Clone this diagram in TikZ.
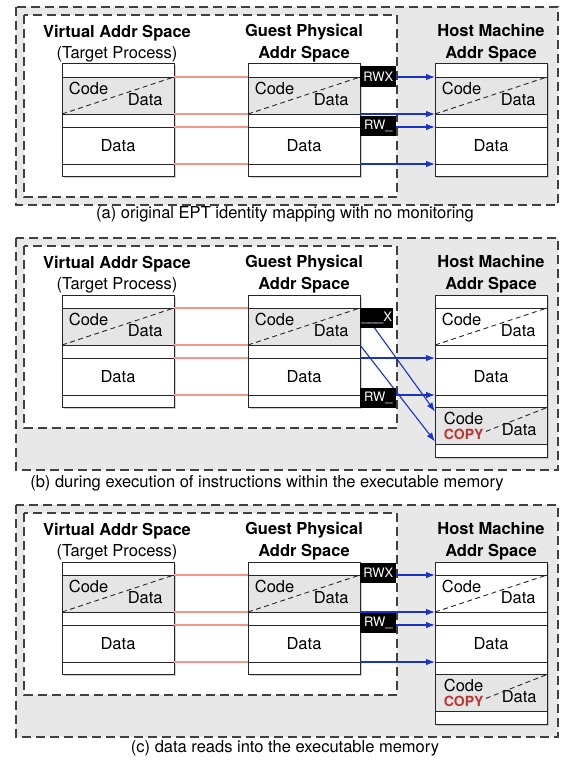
\documentclass[tikz,border=0pt]{standalone}
\usepackage{fontspec}
\setmainfont{TeX Gyre Heros}
\usetikzlibrary{shadows,arrows.meta}

\definecolor{codegray}{gray}{0.9}
\definecolor{panelgray}{gray}{0.91}
\definecolor{maplink}{RGB}{245,150,140}
\definecolor{eptblue}{RGB}{25,50,200}
\definecolor{copyred}{RGB}{190,50,45}

\begin{document}
\begin{tikzpicture}[x=1pt,y=-1pt,>={Latex[length=9pt,width=6.5pt]},thick,
	font=\fontsize{16.5}{19}\selectfont,
	rowbox/.style={draw=black!85, line width=1pt, fill=white, minimum width=112pt,
		inner sep=0pt, outer sep=0pt, anchor=north west},
	panelbox/.style={draw=black!75, line width=1.2pt, dash pattern=on 9pt off 5pt, fill=panelgray},
	guestbox/.style={draw=black!75, line width=1.2pt, dash pattern=on 9pt off 5pt, fill=white},
	split/.style={black!85, line width=0.9pt, dash pattern=on 5pt off 3.5pt},
	title/.style={font=\fontsize{16.5}{22}\selectfont\bfseries, align=center},
	perm/.style={fill=black, text=white, font=\fontsize{13}{14}\selectfont,
		minimum width=36pt, minimum height=20pt, inner sep=0pt},
	copytext/.style={text=copyred, font=\fontsize{14}{15}\selectfont\bfseries},
	gva/.style={maplink, line width=1.2pt},
	ept/.style={->, eptblue, line width=1.1pt},
]
	\useasboundingbox (0,0) rectangle (560,760);

	% one address space column: name, left x, top y, fill of code rows, height
	\def\memcol#1#2#3#4#5{
		\path[fill=white, drop shadow={opacity=0.35,shadow xshift=1.5pt,shadow yshift=-1.5pt}]
			(#2,#3) rectangle ++(112,#5);
		\node[rowbox, minimum height=13pt] (#1-1) at (#2,#3) {};
		\node[rowbox, minimum height=37pt, fill=#4] (#1-2) at (#1-1.south west) {};
		\node[rowbox, minimum height=13pt] (#1-3) at (#1-2.south west) {};
		\node[rowbox, minimum height=37pt] (#1-4) at (#1-3.south west) {Data};
		\node[rowbox, minimum height=12.5pt] (#1-5) at (#1-4.south west) {};
		\draw[split] (#1-2.south west) -- (#1-2.north east);
		\node[anchor=north west, inner sep=0pt] (#1-code) at ([shift={(6.5,4.5)}]#1-2.north west) {Code};
		\node[anchor=south east, inner sep=0pt] (#1-data) at ([shift={(-11,-8)}]#1-2.south east) {Data};
	}

	% copied code page below a host column
	\def\copyrows#1{
		\node[rowbox, minimum height=37pt, fill=codegray] (#1-6) at (#1-5.south west) {};
		\node[rowbox, minimum height=12.5pt] (#1-7) at (#1-6.south west) {};
		\node[anchor=north west, inner sep=0pt] (#1-ccode) at ([shift={(8.5,4.5)}]#1-6.north west) {Code};
		\node[anchor=base west, inner sep=0pt, copytext] (#1-copy) at ([shift={(8.5,32)}]#1-6.north west) {COPY};
		\node[anchor=south east, inner sep=0pt] (#1-cdata) at ([shift={(-10,-8)}]#1-6.south east) {Data};
		\draw[split] ([shift={(2,-3)}]#1-copy.east) -- (#1-6.north east);
	}

	\foreach \pnl/\dy/\hb in {A/0/205, B/231/239, C/498/239} {
		\begin{scope}[shift={(0,\dy)}]
			\draw[panelbox] (16,7) rectangle (558,\hb);
			\draw[guestbox] (24,15) rectangle (397,197);
			\node[title] (vaT\pnl) at (117,33) {Virtual Addr Space};
			\node (vaS\pnl) at (117,54) {(Target Process)};
			\node[title] (gpT\pnl) at (304,43) {Guest Physical\\Addr Space};
			\node[title] (hmT\pnl) at (491,43) {Host Machine\\Addr Space};
			\memcol{va\pnl}{62}{64}{codegray}{112.5}
			\memcol{gp\pnl}{248}{64}{codegray}{112.5}
			\draw[gva] (va\pnl-2.north east) -- (gp\pnl-2.north west);
			\draw[gva] (va\pnl-2.south east) -- (gp\pnl-2.south west);
			\draw[gva] (va\pnl-4.north east) -- (gp\pnl-4.north west);
			\draw[gva] (va\pnl-4.south east) -- (gp\pnl-4.south west);
		\end{scope}
	}

	% (a) identity mapping
	\memcol{hmA}{435}{64}{codegray}{112.5}
	\draw[ept] (gpA-2.north east) -- (hmA-2.north west);
	\draw[ept] (gpA-2.south east) -- (hmA-2.south west);
	\draw[ept] (gpA-4.north east) -- (hmA-4.north west);
	\draw[ept] (gpA-4.south east) -- (hmA-4.south west);
	\node[perm, anchor=west] (rwxA) at ([yshift=0.5pt]gpA-2.north east) {RWX};
	\node[perm, anchor=west] (rwA) at ([yshift=1.5pt]gpA-4.north east) {RW\_};
	\node (capA) at (285,214) {(a) original EPT identity mapping with no monitoring};

	% (b) execution
	\memcol{hmB}{435}{295}{white}{162}
	\copyrows{hmB}
	\draw[ept] (gpB-2.north east) -- ([yshift=-4pt]hmB-6.north west);
	\draw[ept] (gpB-2.south east) -- ([yshift=3pt]hmB-6.south west);
	\draw[ept] (gpB-4.north east) -- (hmB-4.north west);
	\draw[ept] (gpB-4.south east) -- (hmB-4.south west);
	\node[perm, anchor=north west, minimum width=33pt] (xB) at (gpB-2.north east) {\_\_\_X};
	\node[perm, anchor=west] (rwB) at ([yshift=-3pt]gpB-4.south east) {RW\_};
	\node (capB) at (267,483) {(b) during execution of instructions within the executable memory};

	% (c) data reads
	\memcol{hmC}{435}{562}{white}{162}
	\copyrows{hmC}
	\draw[ept] (gpC-2.north east) -- (hmC-2.north west);
	\draw[ept] (gpC-2.south east) -- (hmC-2.south west);
	\draw[ept] (gpC-4.north east) -- (hmC-4.north west);
	\draw[ept] (gpC-4.south east) -- (hmC-4.south west);
	\node[perm, anchor=west] (rwxC) at ([yshift=2pt]gpC-2.north east) {RWX};
	\node[perm, anchor=west] (rwC) at ([yshift=2pt]gpC-4.north east) {RW\_};
	\node (capC) at (285,748) {(c) data reads into the executable memory};
\end{tikzpicture}
\end{document}
